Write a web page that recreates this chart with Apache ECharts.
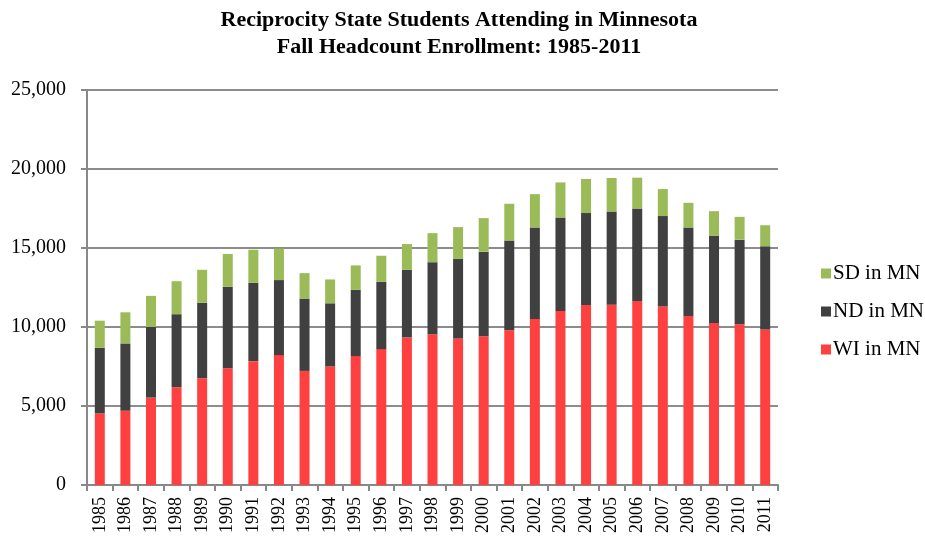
<!DOCTYPE html>
<html>
<head>
<meta charset="utf-8">
<script src="https://cdn.jsdelivr.net/npm/echarts@6/dist/echarts.min.js"></script>
<style>
  html, body { margin: 0; padding: 0; background: #fff; }
  #chart { width: 925px; height: 542px; }
</style>
</head>
<body>
<div id="chart"></div>
<script>
const years = ['1985', '1986', '1987', '1988', '1989', '1990', '1991', '1992', '1993', '1994',
  '1995', '1996', '1997', '1998', '1999', '2000', '2001', '2002', '2003', '2004',
  '2005', '2006', '2007', '2008', '2009', '2010', '2011'];
const wiInMn = [4530, 4700, 5530, 6190, 6760, 7390, 7840, 8220, 7220, 7500,
  8160, 8600, 9340, 9540, 9270, 9420, 9800, 10500, 11010, 11390,
  11410, 11640, 11300, 10690, 10260, 10180, 9840];
const ndInMn = [4160, 4260, 4470, 4620, 4770, 5150, 4960, 4750, 4580, 4000,
  4190, 4260, 4280, 4560, 5040, 5350, 5670, 5800, 5920, 5820,
  5900, 5860, 5720, 5610, 5510, 5350, 5270];
const sdInMn = [1710, 1970, 1970, 2090, 2090, 2080, 2090, 1990, 1610, 1510,
  1550, 1650, 1630, 1840, 2010, 2120, 2330, 2110, 2220, 2160,
  2120, 1950, 1710, 1560, 1560, 1440, 1330];
const yTicks = [0, 5000, 10000, 15000, 20000, 25000];

const serif = '"Liberation Serif", "Times New Roman", serif';
const chart = echarts.init(document.getElementById('chart'));

function barSeries(name, data, color) {
  return {
    name: name,
    type: 'bar',
    stack: 'total',
    data: data,
    barWidth: 10,
    itemStyle: { color: color },
    emphasis: { disabled: true }
  };
}

chart.setOption({
  animation: false,
  title: {
    text: 'Reciprocity State Students Attending in Minnesota\nFall Headcount Enrollment: 1985-2011',
    left: 454,
    textAlign: 'center',
    top: 2,
    textStyle: {
      fontFamily: serif,
      fontWeight: 'bold',
      fontSize: 22,
      lineHeight: 27,
      color: '#000'
    }
  },
  legend: {
    orient: 'vertical',
    left: 816,
    top: 258,
    itemWidth: 10,
    itemHeight: 10,
    itemGap: 17,
    icon: 'rect',
    data: ['SD in MN', 'ND in MN', 'WI in MN'],
    textStyle: { fontFamily: serif, fontSize: 21, color: '#000', padding: [0, 0, 0, -3] }
  },
  grid: { left: 87, right: 147, top: 90, bottom: 57 },
  xAxis: {
    type: 'category',
    data: years,
    axisLine: { lineStyle: { color: '#888', width: 2 } },
    axisTick: { show: true, length: 6, lineStyle: { color: '#888', width: 2 } },
    axisLabel: {
      rotate: 90,
      margin: 12,
      fontFamily: serif,
      fontSize: 18,
      color: '#000'
    }
  },
  yAxis: {
    type: 'value',
    min: yTicks[0],
    max: yTicks[yTicks.length - 1],
    interval: yTicks[1] - yTicks[0],
    axisLine: { show: true, lineStyle: { color: '#888', width: 2 } },
    axisTick: { show: true, length: 6, lineStyle: { color: '#888', width: 2 } },
    splitLine: { lineStyle: { color: '#8c8c8c', width: 2 } },
    axisLabel: {
      margin: 21,
      fontFamily: serif,
      fontSize: 20,
      color: '#000',
      formatter: v => v.toLocaleString('en-US')
    }
  },
  series: [
    barSeries('WI in MN', wiInMn, '#ff4040'),
    barSeries('ND in MN', ndInMn, '#404040'),
    barSeries('SD in MN', sdInMn, '#9bbb59')
  ]
});
</script>
</body>
</html>
